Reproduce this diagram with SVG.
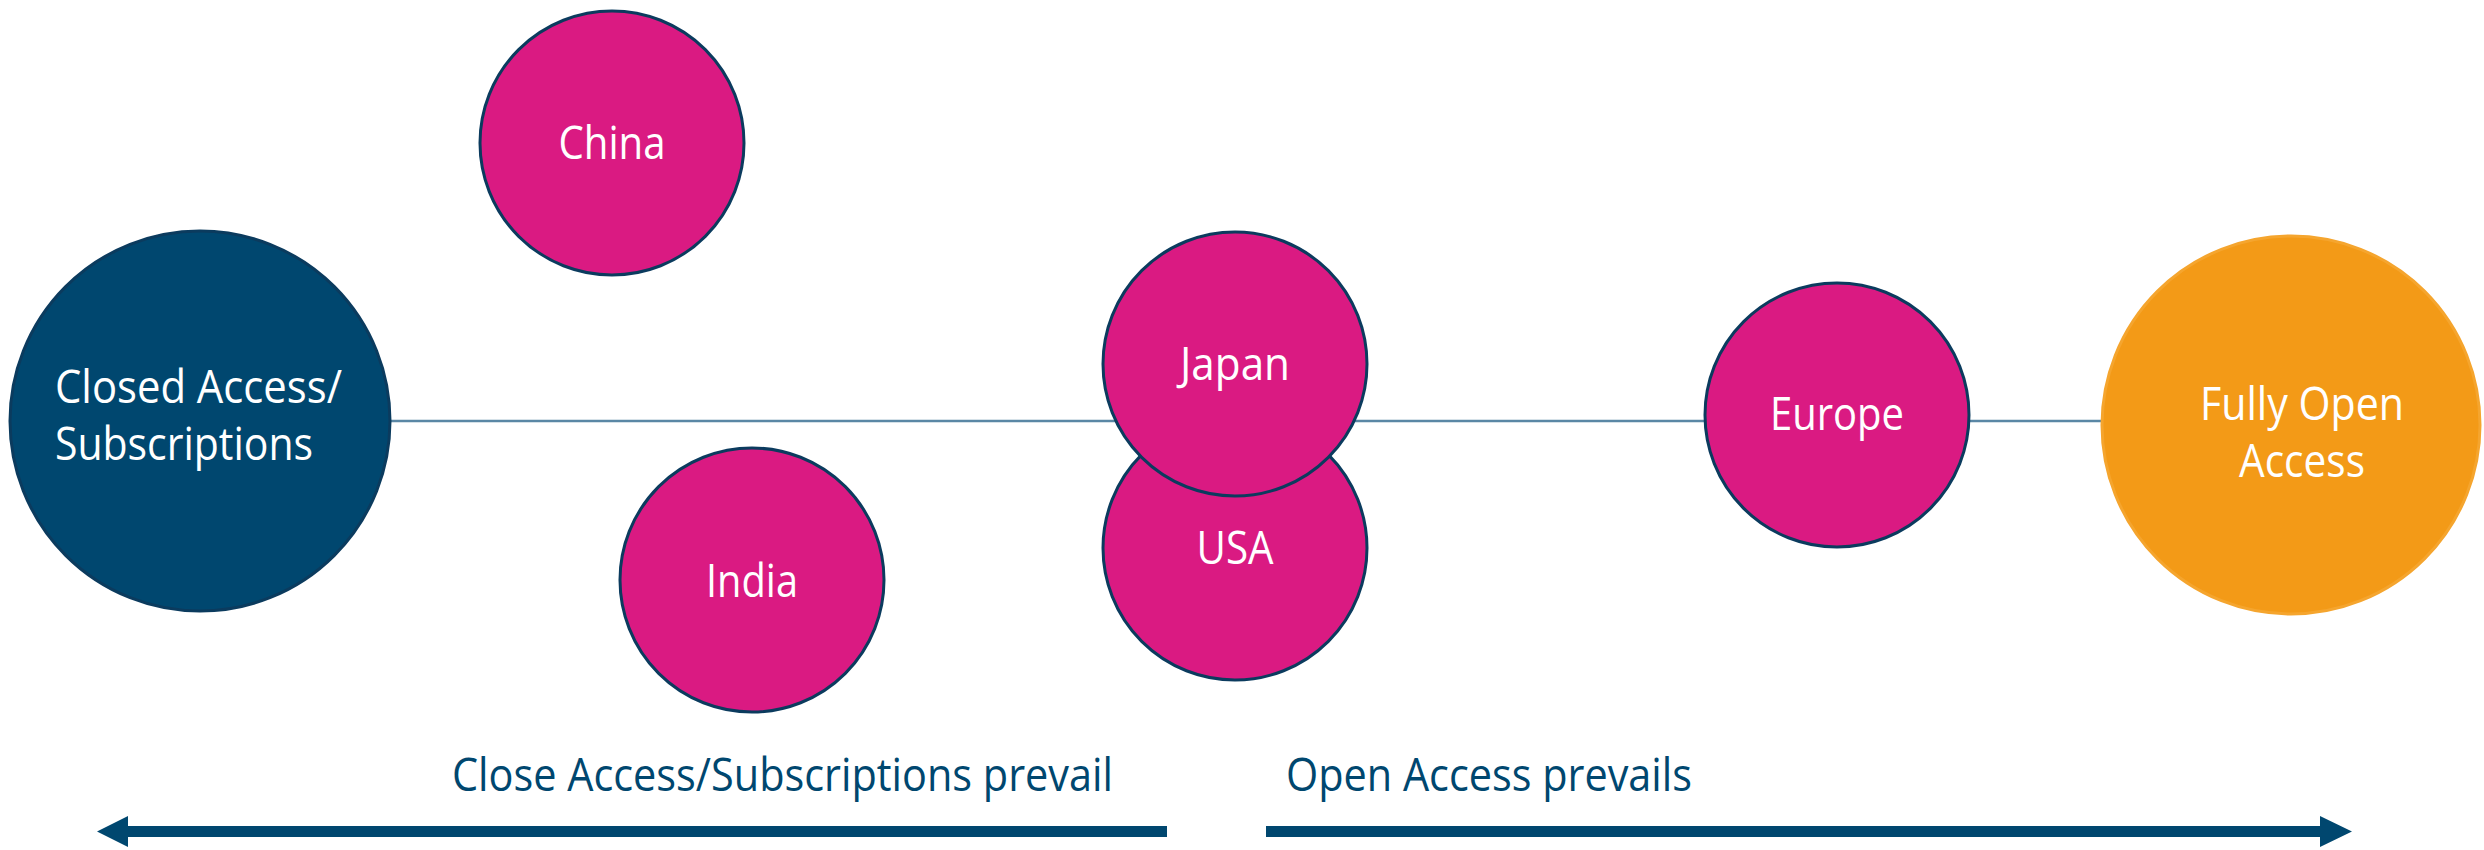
<svg xmlns="http://www.w3.org/2000/svg" width="2484" height="850" viewBox="0 0 2484 850">
<style>
  .node { stroke: #0B3B5E; stroke-width: 3; }
  .pink { fill: #DA1A82; }
  .navy { fill: #00476F; }
  .orange { fill: #F39A17; stroke: #F5A52E; stroke-width: 3; }
  .lbl { font-family: "Open Sans", "Noto Sans", sans-serif; font-size: 45px; fill: #FFFFFF; }
  .cap { font-family: "Open Sans", "Noto Sans", sans-serif; font-size: 45px; fill: #00476F; }
  .axis { stroke: #5A87A5; stroke-width: 2.5; fill: none; }
  .arrow { fill: #00476F; }
</style>
<rect width="2484" height="850" fill="#FFFFFF"/>
<g id="connectors">
  <line class="axis" x1="388" y1="421" x2="2102" y2="421"/>
  <polygon class="arrow" points="1167,826 128,826 128,816 97,831.5 128,847 128,837 1167,837"/>
  <polygon class="arrow" points="1266,826 2320,826 2320,816 2352,831.5 2320,847 2320,837 1266,837"/>
</g>
<g id="closed-access">
  <circle class="node navy" cx="200" cy="421" r="190"/>
  <text class="lbl" x="55" y="403" textLength="287" lengthAdjust="spacingAndGlyphs">Closed Access/</text>
  <text class="lbl" x="55" y="460" textLength="258" lengthAdjust="spacingAndGlyphs">Subscriptions</text>
</g>
<g id="china">
  <circle class="node pink" cx="612" cy="143" r="132"/>
  <text class="lbl" x="612" y="159" text-anchor="middle" textLength="107" lengthAdjust="spacingAndGlyphs">China</text>
</g>
<g id="india">
  <circle class="node pink" cx="752" cy="580" r="132"/>
  <text class="lbl" x="752" y="597" text-anchor="middle" textLength="92" lengthAdjust="spacingAndGlyphs">India</text>
</g>
<g id="usa">
  <circle class="node pink" cx="1235" cy="548" r="132"/>
  <text class="lbl" x="1235" y="564" text-anchor="middle" textLength="77" lengthAdjust="spacingAndGlyphs">USA</text>
</g>
<g id="japan">
  <circle class="node pink" cx="1235" cy="364" r="132"/>
  <text class="lbl" x="1235" y="380" text-anchor="middle" textLength="110" lengthAdjust="spacingAndGlyphs">Japan</text>
</g>
<g id="europe">
  <circle class="node pink" cx="1837" cy="415" r="132"/>
  <text class="lbl" x="1837" y="430" text-anchor="middle" textLength="134" lengthAdjust="spacingAndGlyphs">Europe</text>
</g>
<g id="fully-open-access">
  <circle class="orange" cx="2291" cy="425" r="189"/>
  <text class="lbl" x="2302" y="420" text-anchor="middle" textLength="204" lengthAdjust="spacingAndGlyphs">Fully Open</text>
  <text class="lbl" x="2302" y="477" text-anchor="middle" textLength="126" lengthAdjust="spacingAndGlyphs">Access</text>
</g>
<g id="captions">
  <text class="cap" x="452" y="791" textLength="661" lengthAdjust="spacingAndGlyphs">Close Access/Subscriptions prevail</text>
  <text class="cap" x="1286" y="791" textLength="406" lengthAdjust="spacingAndGlyphs">Open Access prevails</text>
</g>
</svg>
